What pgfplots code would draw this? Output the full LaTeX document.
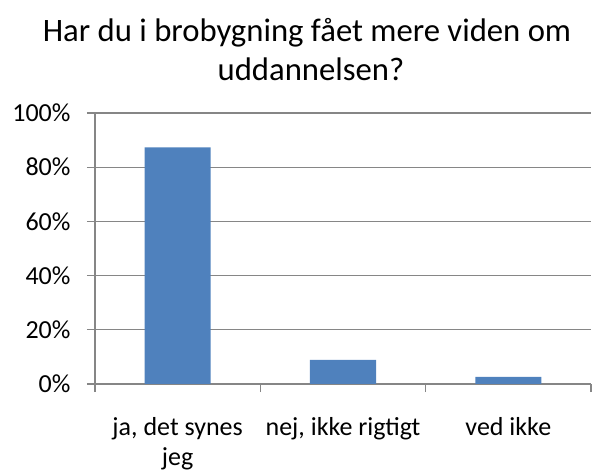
\documentclass[border=0pt]{standalone}
\usepackage{fontspec}
\setmainfont{Carlito}
\usepackage{pgfplots}
\pgfplotsset{compat=1.18}
\definecolor{barblue}{RGB}{79,129,189}
\definecolor{gridgray}{RGB}{134,134,134}
\begin{document}
\begin{tikzpicture}[x=1pt,y=1pt]
\useasboundingbox (0,0) rectangle (592,471);
\node[font=\fontsize{32.7}{40}\selectfont, anchor=base, inner sep=0pt] at (307,429) {Har du i brobygning fået mere viden om};
\node[font=\fontsize{32.7}{40}\selectfont, anchor=base, inner sep=0pt] at (311,390) {uddannelsen?};
\begin{axis}[
  at={(95pt,87pt)}, anchor=south west,
  scale only axis, width=496pt, height=271pt,
  xmin=-0.5, xmax=2.5, ymin=0, ymax=100,
  ybar, bar width=0.4,
  axis lines*=left,
  axis line style={gridgray, line width=1.2pt, -},
  tick style={gridgray, line width=1.2pt},
  tick align=outside, major tick length=8pt,
  ymajorgrids, grid style={gridgray, line width=1.2pt},
  ytick={0,20,40,60,80,100},
  yticklabels={0\%,20\%,40\%,60\%,80\%,100\%},
  xtick={-0.5,0.5,1.5,2.5},
  xticklabels={{ja, det synes\\jeg},{nej, ikke rigtigt},{ved ikke},{}},
  xticklabel style={align=center, anchor=north, xshift=82.65pt, yshift=-22pt, font=\fontsize{26}{30}\selectfont},
  yticklabel style={anchor=east, xshift=-13pt, font=\fontsize{26}{31}\selectfont},
]
\addplot[fill=barblue, draw=none] coordinates {(0,87.3) (1,8.9) (2,2.6)};
\end{axis}
\end{tikzpicture}
\end{document}
